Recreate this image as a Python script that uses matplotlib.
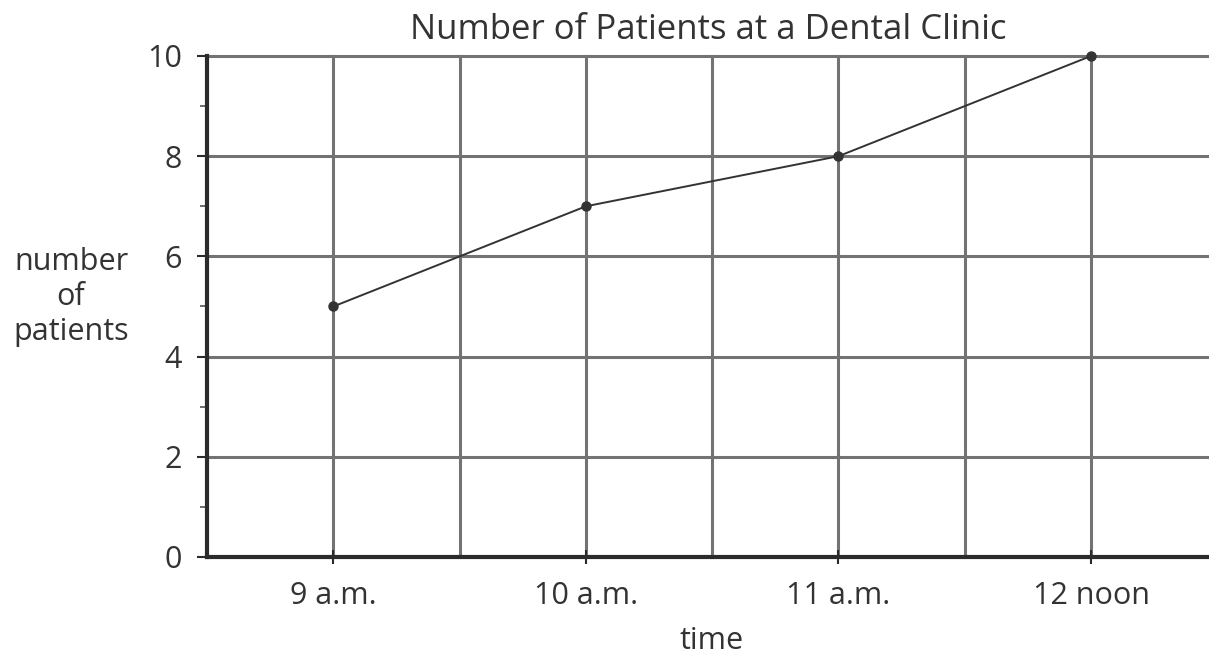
import matplotlib
matplotlib.use("Agg")
import matplotlib.pyplot as plt

times = [9, 10, 11, 12]
time_labels = ["9 a.m.", "10 a.m.", "11 a.m.", "12 noon"]
patients = [5, 7, 8, 10]

plt.rcParams['font.family'] = ['Open Sans', 'DejaVu Sans']
txt = '#333333'

fig = plt.figure(figsize=(12.09, 6.59), dpi=100)
ax = fig.add_axes([207/1209, 1-557/659, 1-207/1209, (557-56)/659])

ax.set_xlim(8.5, 12.467)
ax.set_ylim(0, 10)

# grid
for x in [9, 9.5, 10, 10.5, 11, 11.5, 12]:
    ax.axvline(x, color='#737373', lw=2.2, zorder=1, clip_on=False)
for y in [2, 4, 6, 8, 10]:
    ax.axhline(y, color='#737373', lw=2.2, zorder=1, clip_on=False)

ax.plot(times, patients, color='#333333', lw=1.4, marker='o', markersize=6.5,
        zorder=3, clip_on=False)

for s in ['top', 'right']:
    ax.spines[s].set_visible(False)
for s in ['left', 'bottom']:
    ax.spines[s].set_color('#2b2b2b')
    ax.spines[s].set_linewidth(3)
    ax.spines[s].set_zorder(4)

ax.set_yticks([0, 2, 4, 6, 8, 10])
ax.set_yticks([1, 3, 5, 7, 9], minor=True)
ax.set_xticks(times)
ax.set_xticklabels(time_labels)
ax.tick_params(axis='y', which='major', direction='out', length=7, width=1.5,
               color='#2b2b2b', labelsize=22, labelcolor=txt, pad=11)
ax.tick_params(axis='y', which='minor', direction='out', length=5, width=1.2,
               color='#555555')
ax.tick_params(axis='x', which='major', direction='inout', length=10, width=1.5,
               color='#2b2b2b', labelsize=22, labelcolor=txt, pad=12)

ax.set_title("Number of Patients at a Dental Clinic", fontsize=25, color=txt, pad=12)
fig.text(712/1209, 1-641/659, "time", ha='center', va='center', fontsize=22, color=txt)
fig.text(71/1209, 1-297/659, "number\nof\npatients", ha='center', va='center',
         fontsize=22, color=txt, linespacing=1.2)

fig.savefig("out.png", dpi=100)
